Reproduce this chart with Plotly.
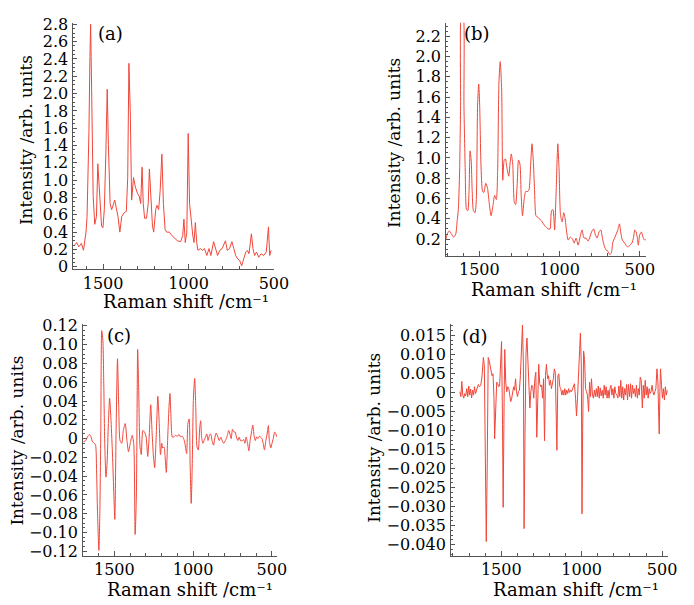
import plotly.graph_objects as go

# ---------------------------------------------------------------- data
# (a) Raman spectrum
shift_a = [1669, 1655, 1642, 1627, 1615, 1608, 1600, 1594, 1589, 1583, 1577, 1573, 1570, 1564,
           1558, 1549, 1539, 1531, 1526, 1520, 1509, 1501, 1493, 1484, 1476, 1469, 1459, 1450,
           1440, 1432, 1423, 1413, 1402, 1391, 1379, 1364, 1356, 1349, 1341, 1333, 1322, 1311,
           1299, 1288, 1280, 1272, 1265, 1257, 1246, 1236, 1229, 1221, 1211, 1204, 1192, 1185,
           1175, 1166, 1156, 1147, 1137, 1128, 1112, 1097, 1084, 1065, 1046, 1034, 1027, 1019,
           1010, 1002, 994, 985, 975, 968, 960, 952, 945, 931, 918, 907, 893, 880, 869, 853,
           842, 830, 817, 803, 784, 773, 760, 746, 735, 724, 712, 701, 689, 678, 665, 655,
           646, 632, 623, 613, 602, 589, 575, 560, 545, 532, 525, 517]
int_a = [0.245, 0.28, 0.23, 0.27, 0.19, 0.30, 0.40, 0.58, 0.96, 1.56, 2.43, 2.80, 2.43, 1.49,
         0.81, 0.49, 0.58, 1.19, 1.03, 0.70, 0.47, 0.45, 0.66, 1.30, 2.05, 1.41, 0.73, 0.66,
         0.71, 0.77, 0.68, 0.58, 0.40, 0.58, 0.62, 0.64, 1.03, 2.35, 1.79, 0.77, 1.03, 0.92,
         0.85, 0.81, 0.73, 1.15, 0.73, 0.56, 0.56, 0.73, 1.13, 0.81, 0.47, 0.40, 0.66, 0.71,
         0.66, 0.88, 1.30, 0.73, 0.43, 0.40, 0.40, 0.36, 0.34, 0.30, 0.29, 0.36, 0.55, 0.28,
         0.40, 1.54, 0.73, 0.51, 0.36, 0.28, 0.51, 0.28, 0.19, 0.21, 0.19, 0.21, 0.13, 0.21,
         0.13, 0.29, 0.21, 0.13, 0.19, 0.21, 0.30, 0.19, 0.21, 0.29, 0.21, 0.13, 0.09, 0.075,
         0.01, 0.09, 0.17, 0.19, 0.15, 0.38, 0.21, 0.13, 0.17, 0.11, 0.15, 0.13, 0.17, 0.46,
         0.13, 0.19]

# (b) Raman spectrum
shift_b = [1708, 1700, 1688, 1674, 1660, 1647, 1639, 1631, 1623, 1617, 1611, 1602, 1596, 1588,
           1580, 1572, 1564, 1558, 1551, 1545, 1537, 1527, 1519, 1511, 1504, 1498, 1490, 1480,
           1472, 1460, 1449, 1439, 1427, 1415, 1405, 1394, 1386, 1378, 1370, 1361, 1354, 1345,
           1337, 1329, 1317, 1309, 1301, 1292, 1282, 1274, 1264, 1256, 1247, 1239, 1231, 1221,
           1211, 1198, 1190, 1180, 1172, 1164, 1156, 1147, 1133, 1113, 1092, 1072, 1060, 1050,
           1041, 1031, 1021, 1011, 1003, 994, 984, 974, 966, 956, 946, 933, 919, 909, 897, 884,
           872, 860, 848, 835, 823, 811, 801, 788, 776, 766, 754, 743, 733, 721, 709, 699, 688,
           678, 668, 657, 647, 637, 627, 619, 609, 598, 586, 574, 562, 549, 540, 531, 523, 515,
           509, 501, 490, 480, 470, 460]
int_b = [0.20, 0.25, 0.28, 0.25, 0.22, 0.25, 0.37, 0.49, 0.88, 1.52, 2.45, 2.45, 1.52, 0.88,
         0.49, 0.48, 0.69, 1.07, 0.98, 0.69, 0.48, 0.46, 0.59, 1.52, 1.73, 1.52, 0.94, 0.67,
         0.66, 0.75, 0.70, 0.56, 0.43, 0.53, 0.63, 0.59, 0.88, 1.74, 1.95, 1.68, 0.78, 0.98,
         0.99, 0.91, 0.82, 0.94, 1.04, 0.94, 0.56, 0.54, 0.75, 0.98, 0.94, 0.62, 0.43, 0.59,
         0.67, 0.67, 0.69, 0.94, 1.14, 0.98, 0.69, 0.43, 0.41, 0.38, 0.33, 0.30, 0.30, 0.48,
         0.49, 0.29, 0.69, 1.14, 0.88, 0.43, 0.37, 0.46, 0.41, 0.27, 0.19, 0.22, 0.20, 0.16,
         0.21, 0.14, 0.22, 0.29, 0.21, 0.21, 0.18, 0.22, 0.27, 0.30, 0.24, 0.21, 0.27, 0.29,
         0.21, 0.13, 0.09, 0.08, 0.05, 0.06, 0.17, 0.21, 0.25, 0.29, 0.35, 0.27, 0.19, 0.17,
         0.14, 0.12, 0.14, 0.16, 0.21, 0.29, 0.27, 0.21, 0.14, 0.24, 0.27, 0.22, 0.19, 0.20]

# (c) first-derivative spectrum
shift_c = [1696, 1681, 1669, 1658, 1648, 1638, 1627, 1619, 1613, 1607, 1598, 1592, 1586, 1580,
           1573, 1567, 1561, 1553, 1546, 1538, 1530, 1522, 1513, 1505, 1497, 1489, 1480, 1472,
           1464, 1453, 1443, 1431, 1420, 1410, 1399, 1387, 1377, 1368, 1360, 1352, 1346, 1337,
           1329, 1319, 1308, 1298, 1288, 1278, 1269, 1261, 1253, 1244, 1236, 1230, 1224, 1215,
           1207, 1199, 1193, 1184, 1178, 1170, 1161, 1153, 1147, 1141, 1132, 1122, 1112, 1101,
           1089, 1079, 1068, 1058, 1050, 1041, 1033, 1025, 1019, 1012, 1006, 998, 990, 983,
           975, 967, 958, 952, 946, 938, 930, 921, 913, 905, 896, 888, 880, 870, 861, 853,
           843, 834, 824, 816, 805, 795, 785, 774, 766, 758, 750, 741, 733, 725, 716, 708,
           698, 687, 679, 671, 663, 654, 646, 638, 629, 621, 613, 605, 596, 588, 580, 572,
           563, 555, 547, 538, 530, 522, 516, 507, 499, 491, 482, 474, 468]
int_c = [-0.0035, -0.002, 0.0024, 0.0045, 0.0017, -0.0035, -0.005, -0.007, -0.033, -0.078,
         -0.119, -0.078, 0.0086, 0.115, 0.105, 0.057, -0.005, -0.041, -0.026, 0.016, 0.043,
         0.022, -0.012, -0.050, -0.086, 0.0086, 0.085, 0.033, -0.002, -0.005, 0.0086, 0.016,
         -0.002, -0.014, -0.005, 0.0035, -0.005, -0.102, -0.060, 0.095, 0.057, -0.009, -0.017,
         0.0086, 0.0069, 0.0017, -0.019, 0.005, 0.036, 0.0086, -0.016, -0.031, -0.005, 0.022,
         0.045, 0.016, -0.017, -0.005, -0.010, -0.009, -0.019, -0.036, 0.0017, 0.033, 0.048,
         0.026, 0.0017, 0.0017, 0.0035, 0.0024, 0.0045, 0.0017, 0.0024, -0.001, -0.007, -0.016,
         0.016, 0.021, -0.026, -0.069, -0.033, 0.043, 0.064, 0.033, -0.009, -0.012, 0.012,
         0.019, 0.0017, -0.005, -0.002, 0.0017, 0.005, -0.002, 0.0035, 0.005, -0.002, -0.007,
         0.0017, 0.006, 0.0017, -0.002, 0.0017, -0.002, -0.005, -0.002, 0.0017, 0.0086, 0.005,
         0.0, 0.010, 0.007, 0.007, 0.0017, -0.002, 0.0017, -0.0024, -0.002, -0.001, -0.005,
         0.0017, -0.005, -0.013, -0.002, 0.007, 0.0145, 0.0035, -0.002, 0.0017, 0.0, 0.0024,
         0.0017, 0.0, -0.005, -0.012, -0.002, 0.005, 0.0138, -0.002, -0.010, -0.005, 0.0,
         0.007, 0.005, 0.0017]

# (d) second-derivative spectrum
shift_d = [1757, 1751, 1745, 1739, 1733, 1727, 1721, 1714, 1708, 1702, 1696, 1690, 1684, 1678,
           1672, 1666, 1660, 1654, 1648, 1642, 1636, 1627, 1619, 1611, 1605, 1599, 1593, 1587,
           1581, 1575, 1569, 1563, 1557, 1551, 1545, 1541, 1534, 1528, 1522, 1516, 1510, 1504,
           1498, 1492, 1488, 1482, 1478, 1472, 1466, 1459, 1453, 1447, 1441, 1435, 1429, 1423,
           1417, 1411, 1405, 1399, 1393, 1387, 1381, 1374, 1368, 1362, 1358, 1352, 1346, 1340,
           1334, 1328, 1322, 1316, 1310, 1304, 1298, 1291, 1285, 1279, 1273, 1267, 1261, 1255,
           1249, 1243, 1237, 1231, 1225, 1219, 1212, 1206, 1200, 1194, 1188, 1182, 1176, 1170,
           1164, 1158, 1154, 1148, 1142, 1136, 1130, 1123, 1117, 1111, 1105, 1099, 1093, 1087,
           1081, 1075, 1069, 1063, 1057, 1051, 1045, 1038, 1032, 1026, 1020, 1014, 1008, 1002,
           998, 994, 988, 982, 976, 970, 964, 957, 951, 945, 939, 933, 927, 921, 915, 909, 903,
           897, 891, 885, 879, 872, 866, 860, 854, 848, 842, 836, 830, 824, 818, 812, 806, 800,
           794, 788, 781, 775, 769, 763, 757, 751, 745, 739, 733, 727, 721, 715, 709, 702, 696,
           690, 684, 678, 672, 666, 660, 654, 648, 642, 636, 630, 623, 617, 611, 605, 599, 593,
           587, 581, 575, 569, 563, 557, 551, 545, 539, 532, 526, 522, 518, 514, 510, 504, 498,
           492, 486, 480, 474, 468]
int_d = [0.0002, -0.0011, 0.0029, -0.0007, -0.0015, -0.0003, -0.0009, 0.0010, -0.0011, 0.0017,
         -0.0007, 0.0009, -0.0014, 0.0006, -0.0007, 0.0015, -0.0003, 0.0006, 0.0012, 0.0021,
         0.0015, 0.0019, 0.0044, 0.0092, 0.0070, -0.0161, -0.0392, -0.0186, 0.0092, 0.0083,
         0.0066, 0.0062, 0.0044, 0.0049, -0.0015, -0.0122, -0.0058, 0.0027, 0.0023, 0.0015,
         0.0017, 0.0066, 0.0134, -0.0084, -0.0302, -0.0015, 0.0113, 0.0027, 0.0002, 0.0015,
         0.0010, -0.0007, -0.0024, -0.0015, -0.0003, 0.0015, 0.0006, 0.0036, 0.0002, -0.0011,
         0.0002, 0.0006, 0.0044, 0.0121, 0.0177, 0.0070, -0.0358, -0.0101, 0.0104, 0.0143,
         0.0070, 0.0010, -0.0041, 0.0002, 0.0019, 0.0015, -0.0015, 0.0036, 0.0053, -0.0118,
         0.0010, 0.0074, 0.0023, 0.0015, 0.0019, -0.0015, 0.0036, -0.0127, 0.0044, 0.0074,
         0.0036, 0.0044, 0.0019, 0.0032, 0.0010, 0.0023, 0.0036, 0.0062, 0.0053, -0.0067,
         -0.0152, 0.0044, 0.0049, 0.0015, 0.0010, -0.0007, 0.0006, -0.0007, 0.0010, -0.0007,
         0.0006, -0.0003, 0.0010, 0.0, 0.0006, 0.0002, 0.0010, 0.0015, 0.0023, -0.0015,
         -0.0062, -0.0015, 0.0049, 0.0079, 0.0156, 0.0070, -0.0319, -0.0101, 0.0109, 0.0087,
         0.0010, 0.0002, -0.0007, -0.0050, 0.0027, -0.0011, 0.0036, -0.0007, -0.0015, 0.0006,
         -0.0011, 0.0010, -0.0011, 0.0017, -0.0015, 0.0012, -0.0009, 0.0006, -0.0015, 0.0019,
         -0.0007, 0.0015, -0.0015, 0.0006, -0.0015, 0.0010, 0.0019, -0.0007, 0.0010, -0.0015,
         0.0015, -0.0003, -0.0007, -0.0015, 0.0017, -0.0011, 0.0032, -0.0015, 0.0015, -0.0020,
         0.0010, -0.0007, 0.0021, -0.0020, 0.0021, -0.0011, 0.0023, -0.0015, 0.0019, -0.0003,
         0.0010, -0.0011, 0.0019, -0.0015, 0.0010, -0.0007, 0.0040, 0.0032, -0.0041, 0.0019,
         -0.0015, 0.0032, -0.0007, 0.0015, -0.0015, 0.0010, -0.0003, 0.0002, 0.0019, 0.0002,
         -0.0007, 0.0002, 0.0010, 0.0062, 0.0027, -0.0050, -0.0109, 0.0002, 0.0062, 0.0019,
         -0.0015, 0.0010, -0.0020, 0.0015, -0.0007, 0.0006]

# tick values / labels
xticks = [1500, 1000, 500]
xtick_text = ["1500", "1000", "500"]
yticks_a = [0, 0.2, 0.4, 0.6, 0.8, 1.0, 1.2, 1.4, 1.6, 1.8, 2.0, 2.2, 2.4, 2.6, 2.8]
ytext_a = ["0", "0.2", "0.4", "0.6", "0.8", "1.0", "1.2", "1.4", "1.6", "1.8", "2.0",
           "2.2", "2.4", "2.6", "2.8"]
yticks_b = [0.2, 0.4, 0.6, 0.8, 1.0, 1.2, 1.4, 1.6, 1.8, 2.0, 2.2]
ytext_b = ["0.2", "0.4", "0.6", "0.8", "1.0", "1.2", "1.4", "1.6", "1.8", "2.0", "2.2"]
yticks_c = [0.12, 0.10, 0.08, 0.06, 0.04, 0.02, 0, -0.02, -0.04, -0.06, -0.08, -0.10, -0.12]
ytext_c = ["0.12", "0.10", "0.08", "0.06", "0.04", "0.02", "0", "\u22120.02", "\u22120.04",
           "\u22120.06", "\u22120.08", "\u22120.10", "\u22120.12"]
yticks_d = [0.015, 0.010, 0.005, 0, -0.005, -0.010, -0.015, -0.020, -0.025, -0.030,
            -0.035, -0.040]
ytext_d = ["0.015", "0.010", "0.005", "0", "\u22120.005", "\u22120.010", "\u22120.015",
           "\u22120.020", "\u22120.025", "\u22120.030", "\u22120.035", "\u22120.040"]

panel_tags = ["(a)", "(b)", "(c)", "(d)"]
x_title = "Raman shift /cm\u207b\u00b9"
y_title = "Intensity /arb. units"

# ---------------------------------------------------------------- layout helpers
W, H = 694, 605
FONT = "DejaVu Serif"
LINE_COLOR = "#f0463a"
AXIS_COLOR = "#555555"
TICK_SIZE = 16


def px_x(p):
    return p / W


def px_y(p):
    return 1 - p / H


def x_axis(dom, rng, anchor):
    return dict(domain=[px_x(dom[0]), px_x(dom[1])], range=rng, anchor=anchor,
                tickmode="array", tickvals=xticks, ticktext=xtick_text,
                ticks="inside", ticklen=5, tickcolor=AXIS_COLOR, tickwidth=1,
                minor=dict(dtick=100, tick0=0, ticks="inside", ticklen=3,
                           tickcolor=AXIS_COLOR),
                showline=True, linecolor=AXIS_COLOR, linewidth=1, mirror=False,
                showgrid=False, zeroline=False, ticklabelstandoff=-1,
                tickfont=dict(family=FONT, size=TICK_SIZE, color="black"))


def y_axis(dom, rng, anchor, vals, text, minor_step):
    return dict(domain=[px_y(dom[1]), px_y(dom[0])], range=rng, anchor=anchor,
                tickmode="array", tickvals=vals, ticktext=text,
                ticks="inside", ticklen=4, tickcolor=AXIS_COLOR, tickwidth=1,
                minor=dict(dtick=minor_step, tick0=0, ticks="inside", ticklen=2,
                           tickcolor=AXIS_COLOR),
                showline=True, linecolor=AXIS_COLOR, linewidth=1, mirror=False,
                showgrid=False, zeroline=False, ticklabelstandoff=1,
                tickfont=dict(family=FONT, size=TICK_SIZE, color="black"))


fig = go.Figure()
series = [(shift_a, int_a, "x", "y", "linear"), (shift_b, int_b, "x2", "y2", "spline"),
          (shift_c, int_c, "x3", "y3", "spline"), (shift_d, int_d, "x4", "y4", "linear")]
for xs, ys, xa, ya, shape in series:
    fig.add_trace(go.Scatter(x=xs, y=ys, xaxis=xa, yaxis=ya, mode="lines",
                             line=dict(color=LINE_COLOR, width=1, shape=shape,
                                       smoothing=0.6),
                             showlegend=False, hoverinfo="skip"))

fig.update_layout(
    width=W, height=H, margin=dict(l=0, r=0, t=0, b=0),
    paper_bgcolor="white", plot_bgcolor="white",
    xaxis=x_axis((75, 280), [1674, 500], "y"),
    yaxis=y_axis((15, 268), [-0.03, 2.82], "x", yticks_a, ytext_a, 0.05),
    xaxis2=x_axis((456, 660), [1707, 463], "y2"),
    yaxis2=y_axis((15, 254), [0.036, 2.335], "x2", yticks_b, ytext_b, 0.05),
    xaxis3=x_axis((85, 283), [1698, 468], "y3"),
    yaxis3=y_axis((324, 562), [-0.125, 0.122], "x3", yticks_c, ytext_c, 0.005),
    xaxis4=x_axis((461, 683), [1812, 462], "y4"),
    yaxis4=y_axis((324, 562), [-0.043, 0.018], "x4", yticks_d, ytext_d, 0.00125),
)

# axis titles and panel tags
xtitle_pos = [(190, 301), (566, 289), (194, 596), (589, 596)]
ytitle_pos = [(26, 135), (402, 138), (17, 444), (382, 441)]
tag_pos = [(113, 26), (488, 26), (122, 336), (485, 337)]
for (tx, ty), (vx, vy), (gx, gy), tag in zip(xtitle_pos, ytitle_pos, tag_pos, panel_tags):
    fig.add_annotation(x=px_x(tx), y=px_y(ty), xref="paper", yref="paper", text=x_title,
                       showarrow=False, xanchor="center", yanchor="middle",
                       font=dict(family=FONT, size=18, color="black"))
    fig.add_annotation(x=px_x(vx), y=px_y(vy), xref="paper", yref="paper", text=y_title,
                       showarrow=False, textangle=-90, xanchor="center", yanchor="middle",
                       font=dict(family=FONT, size=17, color="black"))
    fig.add_annotation(x=px_x(gx), y=px_y(gy), xref="paper", yref="paper", text=tag,
                       showarrow=False, xanchor="center", yanchor="middle",
                       font=dict(family=FONT, size=18, color="black"))

fig.write_html("out.html")
